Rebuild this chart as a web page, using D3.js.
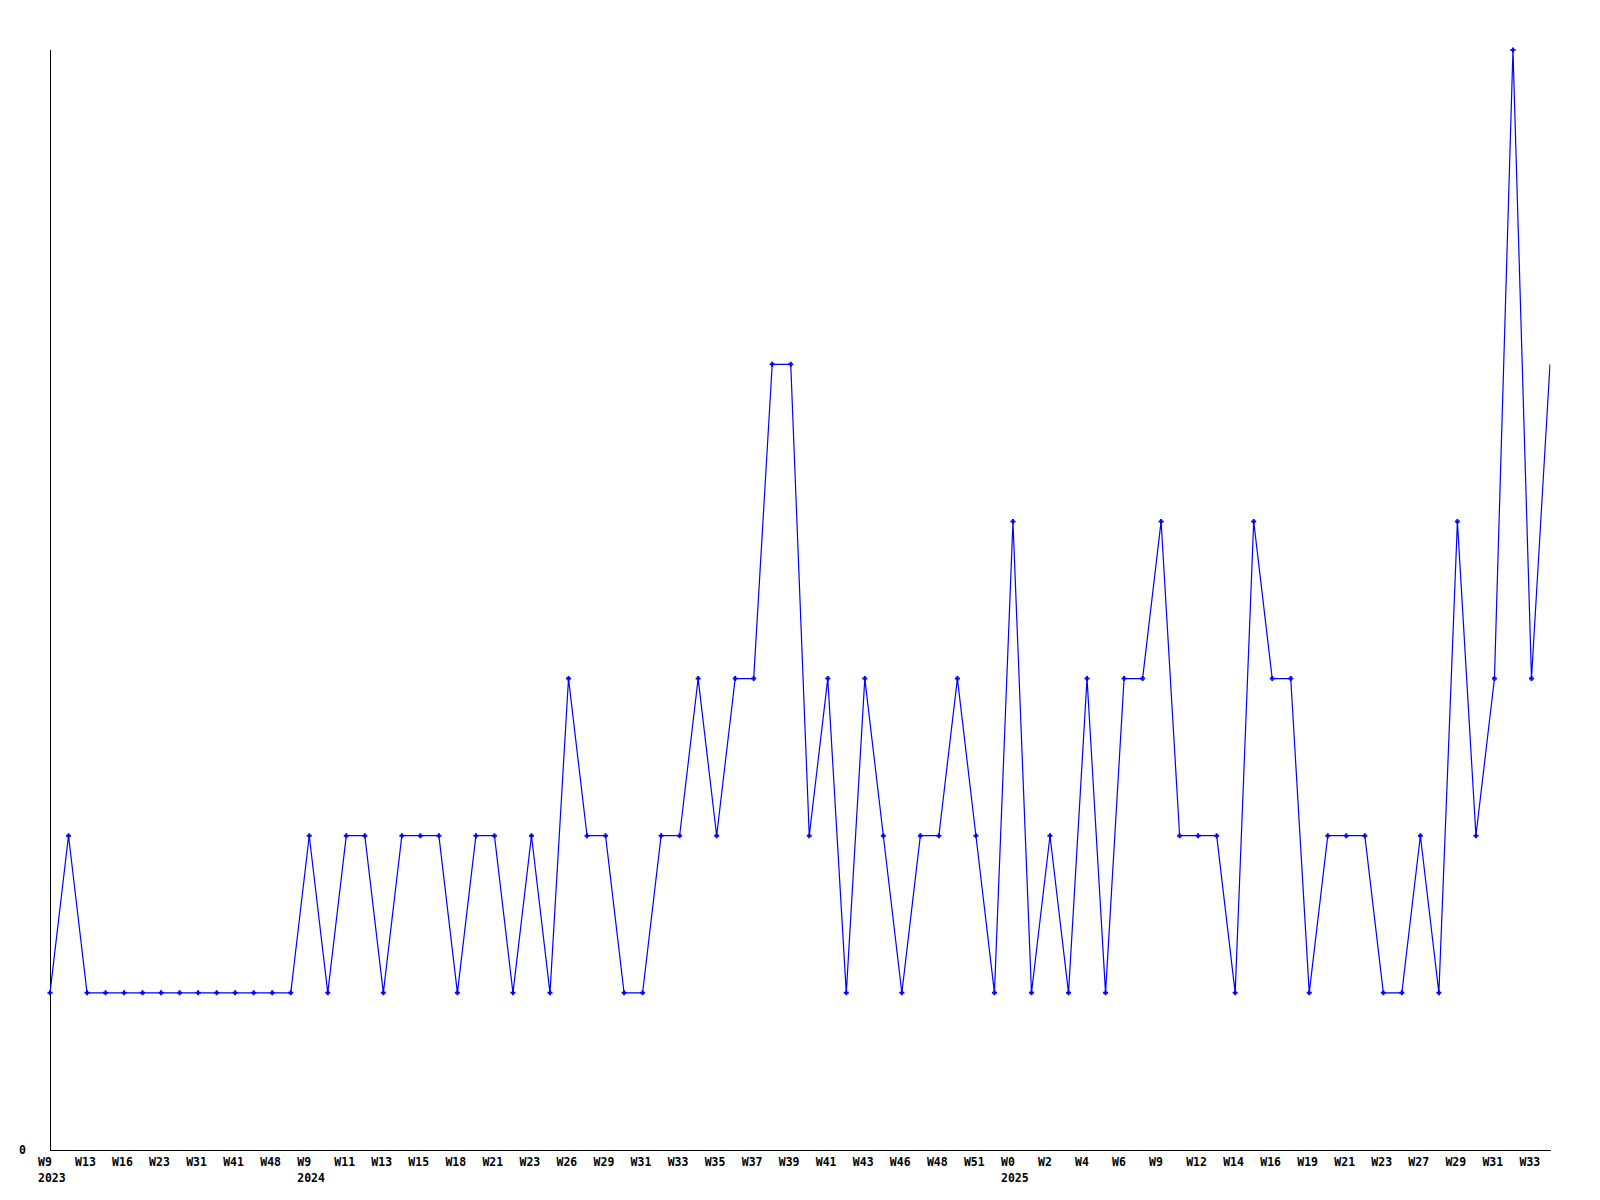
<!DOCTYPE html>
<html>
<head>
<meta charset="utf-8">
<script src="https://cdn.jsdelivr.net/npm/d3@7"></script>
<style>
  html, body { margin: 0; padding: 0; background: #fff; }
  svg { display: block; }
  text { font-family: "DejaVu Sans Mono", "Liberation Mono", monospace; font-weight: bold; font-size: 11.5px; fill: #000; }
</style>
</head>
<body>
<svg id="chart" width="1600" height="1200"></svg>
<script>
// ---- data ----
const values = [
  1, 2, 1, 1, 1, 1, 1, 1, 1, 1, 1, 1, 1, 1, 2, 1, 2, 2, 1, 2,
  2, 2, 1, 2, 2, 1, 2, 1, 3, 2, 2, 1, 1, 2, 2, 3, 2, 3, 3, 5,
  5, 2, 3, 1, 3, 2, 1, 2, 2, 3, 2, 1, 4, 1, 2, 1, 3, 1, 3, 3,
  4, 2, 2, 2, 1, 4, 3, 3, 1, 2, 2, 2, 1, 1, 2, 1, 4, 2, 3, 7,
  3, 5
];
const tickLabels = [
  "W9","W13","W16","W23","W31","W41","W48","W9","W11","W13",
  "W15","W18","W21","W23","W26","W29","W31","W33","W35","W37",
  "W39","W41","W43","W46","W48","W51","W0","W2","W4","W6",
  "W9","W12","W14","W16","W19","W21","W23","W27","W29","W31","W33"
];
const yearLabels = ["2023", "2024", "2025"];
const yearTickIndex = [0, 7, 26];
const yTickValues = [0];
const yMax = 7;

// ---- layout ----
const mLeft = 50, mRight = 1550, mTop = 50, mBottom = 1150;
const svg = d3.select("#chart");

const x = d3.scaleLinear().domain([0, values.length - 1]).range([mLeft, mRight]);
const y = d3.scaleLinear().domain([0, yMax]).range([mBottom, mTop]);

const defs = svg.append("defs");
defs.append("clipPath").attr("id", "clipLine")
  .append("rect").attr("x", mLeft - 5).attr("y", 0).attr("width", mRight - mLeft + 5.5).attr("height", 1200);
defs.append("clipPath").attr("id", "clipMark")
  .append("rect").attr("x", mLeft - 5).attr("y", 0).attr("width", mRight - mLeft + 2).attr("height", 1200);

// axes lines
svg.append("line").attr("x1", mLeft + 0.5).attr("x2", mLeft + 0.5).attr("y1", mTop).attr("y2", mBottom + 0.5)
  .attr("stroke", "#000").attr("stroke-width", 1).attr("shape-rendering", "crispEdges");
svg.append("line").attr("x1", mLeft).attr("x2", mRight + 1).attr("y1", mBottom + 0.5).attr("y2", mBottom + 0.5)
  .attr("stroke", "#000").attr("stroke-width", 1).attr("shape-rendering", "crispEdges");

// y labels
svg.selectAll("text.ylab").data(yTickValues).join("text")
  .attr("class", "ylab")
  .attr("x", 19)
  .attr("y", d => y(d) + 4)
  .text(d => d);

// x tick labels (every other point)
svg.selectAll("text.xlab").data(tickLabels).join("text")
  .attr("class", "xlab")
  .attr("x", (d, i) => x(i * 2) - 12)
  .attr("y", 1166)
  .text(d => d);

// year labels
svg.selectAll("text.year").data(yearLabels).join("text")
  .attr("class", "year")
  .attr("x", (d, i) => x(yearTickIndex[i] * 2) - 12)
  .attr("y", 1182)
  .text(d => d);

// line
const line = d3.line().x((d, i) => x(i)).y(d => y(d));
svg.append("path")
  .datum(values)
  .attr("clip-path", "url(#clipLine)")
  .attr("d", line)
  .attr("fill", "none")
  .attr("stroke", "#0000ff")
  .attr("stroke-width", 1.2);

// markers (small plus)
const marks = svg.append("g").attr("clip-path", "url(#clipMark)");
marks.selectAll("path.mk").data(values).join("path")
  .attr("class", "mk")
  .attr("transform", (d, i) => `translate(${x(i)},${y(d)})`)
  .attr("d", "M-2.5,0H2.5M0,-2.5V2.5")
  .attr("stroke", "#0000ff")
  .attr("stroke-width", 2)
  .attr("fill", "none");
</script>
</body>
</html>
